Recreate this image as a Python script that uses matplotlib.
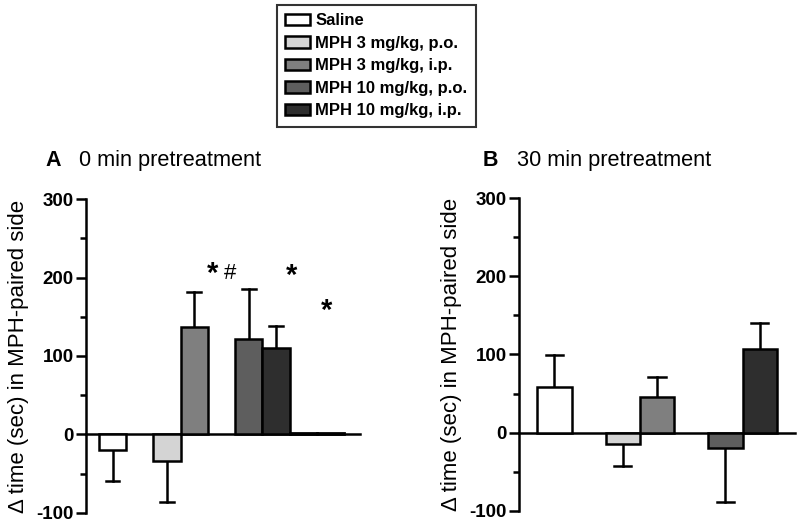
import matplotlib.pyplot as plt
from matplotlib.patches import Patch
from matplotlib.ticker import MultipleLocator

plt.rcParams['font.family'] = ['Liberation Sans', 'DejaVu Sans']
plt.rcParams['axes.unicode_minus'] = False

# groups and colours
groups = ['Saline', 'MPH 3 mg/kg, p.o.', 'MPH 3 mg/kg, i.p.',
          'MPH 10 mg/kg, p.o.', 'MPH 10 mg/kg, i.p.']
colors = ['#ffffff', '#d4d4d4', '#7f7f7f', '#5e5e5e', '#2e2e2e']
slots = [0, 2, 3, 5, 6]

# panel A, 0 min pretreatment
mean_a = [-20, -34, 137, 122, 110]
err_a = [-40, -52, 45, 64, 28]
# flat black bar near zero after the last group
extra_slots_a = [7, 8]
extra_a = [1.5, 1.5]
# significance marks (slot, value, text)
marks_a = [(3.68, 205, '*'), (4.3, 205, '#'), (6.58, 202, '*'), (7.87, 157, '*')]

# panel B, 30 min pretreatment
mean_b = [58, -14, 46, -20, 107]
err_b = [41, -29, 25, -69, 33]

ylabel = '\u0394 time (sec) in MPH-paired side'

fig = plt.figure(figsize=(8, 5.26), dpi=100)
ax_a = fig.add_axes([0.1075, 0.0253, 0.3425, 0.596])
ax_b = fig.add_axes([0.649, 0.0291, 0.3446, 0.594])


def draw_panel(ax, means, errs, xlim):
    for s, m, e, c in zip(slots, means, errs, colors):
        ax.bar(s, m, width=1.0, color=c, edgecolor='black', linewidth=1.8, zorder=3)
        ax.plot([s, s], [m, m + e], color='black', lw=1.8, zorder=2)
        ax.plot([s - 0.25, s + 0.25], [m + e, m + e], color='black', lw=1.8, zorder=2)
    ax.set_xlim(*xlim)
    ax.set_ylim(-100, 300)
    ax.spines['top'].set_visible(False)
    ax.spines['right'].set_visible(False)
    ax.spines['bottom'].set_position(('data', 0))
    ax.spines['left'].set_linewidth(1.8)
    ax.spines['bottom'].set_linewidth(1.8)
    ax.set_xticks([])
    ax.yaxis.set_major_locator(MultipleLocator(100))
    ax.yaxis.set_minor_locator(MultipleLocator(50))
    ax.tick_params(axis='y', which='major', length=7, width=1.8, labelsize=13.5, pad=2)
    ax.tick_params(axis='y', which='minor', length=4, width=1.8)
    for t in ax.get_yticklabels():
        t.set_fontweight('bold')
    ax.set_ylabel(ylabel, fontsize=16, labelpad=5)


draw_panel(ax_a, mean_a, err_a, (-0.98, 9.09))
ax_a.bar(extra_slots_a, extra_a, width=1.0, color='black', edgecolor='black',
         linewidth=2, zorder=4)
for x, y, t in marks_a:
    if t == '*':
        ax_a.text(x, y, t, ha='center', va='center', fontsize=21, fontweight='bold')
    else:
        ax_a.text(x, y, t, ha='center', va='center', fontsize=16)

draw_panel(ax_b, mean_b, err_b, (-1.03, 7.03))

# panel titles
fig.text(45 / 800, 1 - 166 / 526, 'A', fontsize=15.5, fontweight='bold', va='baseline')
fig.text(79 / 800, 1 - 166 / 526, '0 min pretreatment', fontsize=15.7, va='baseline')
fig.text(483 / 800, 1 - 166 / 526, 'B', fontsize=15.5, fontweight='bold', va='baseline')
fig.text(517 / 800, 1 - 166 / 526, '30 min pretreatment', fontsize=15.7, va='baseline')

handles = [Patch(facecolor=c, edgecolor='black', linewidth=1.8) for c in colors]
leg = fig.legend(handles, groups, loc='upper left',
                 bbox_to_anchor=(277 / 800, 1 - 5 / 526),
                 prop={'weight': 'bold', 'size': 12},
                 frameon=True, fancybox=False, edgecolor='black',
                 handlelength=1.5, handleheight=0.65, handletextpad=0.3,
                 labelspacing=0.45, borderpad=0.5, borderaxespad=0)
leg.get_frame().set_linewidth(1.5)

fig.savefig('out.png', dpi=100)
